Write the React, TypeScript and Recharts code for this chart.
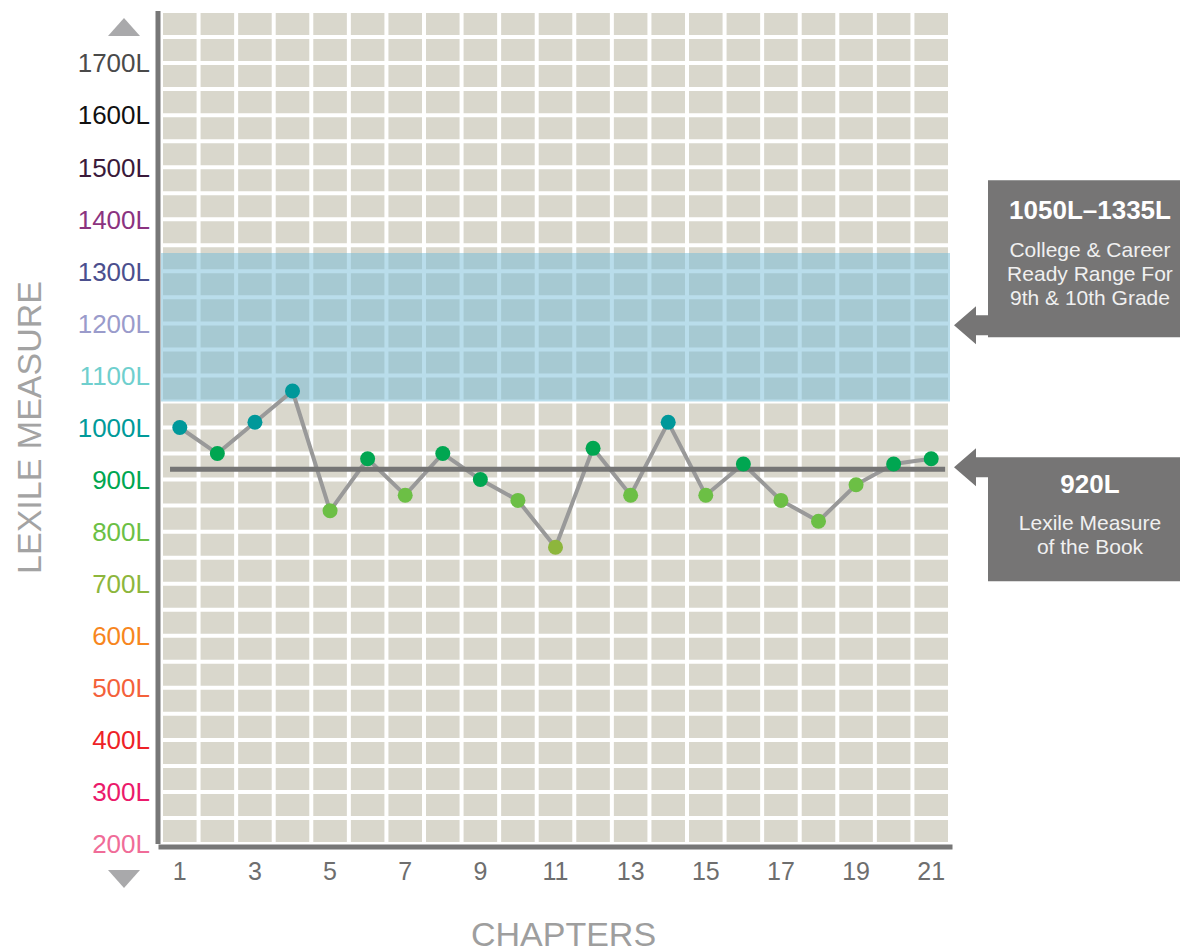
import React from 'react';
import {
  ComposedChart,
  Line,
  XAxis,
  YAxis,
  CartesianGrid,
  ReferenceArea,
  ReferenceLine,
} from 'recharts';

const chapters = [1, 2, 3, 4, 5, 6, 7, 8, 9, 10, 11, 12, 13, 14, 15, 16, 17, 18, 19, 20, 21];
const lexile = [1000, 950, 1010, 1070, 840, 940, 870, 950, 900, 860, 770, 960, 870, 1010, 870, 930, 860, 820, 890, 930, 940];

const xTicks = [1, 3, 5, 7, 9, 11, 13, 15, 17, 19, 21];
const yTicks = [200, 300, 400, 500, 600, 700, 800, 900, 1000, 1100, 1200, 1300, 1400, 1500, 1600, 1700];
const yTickColors = [
  '#f06c98', '#eb1a6b', '#ee2227', '#f4613a', '#f7861e', '#8db63c', '#6cbf45', '#00a651',
  '#009a9a', '#6fcfce', '#9a9bcb', '#4b4f8e', '#8b3380', '#3a1a3a', '#111111', '#4a4a4a',
];

const bookMeasure = 920;
const readyRange = [1050, 1335];

// grid cell borders: every half chapter, every 50L
const gridX = Array.from({ length: 22 }, (_, i) => i + 0.5);
const gridY = Array.from({ length: 33 }, (_, i) => 200 + i * 50);

const data = chapters.map((c, i) => ({ chapter: c, lexile: lexile[i] }));

const FONT = '"Liberation Sans", Arial, Helvetica, sans-serif';
const CALLOUT = '#767575';

const dotColor = (v: number) => {
  if (v >= 1000) return '#00989a';
  if (v >= 900) return '#00a651';
  if (v >= 800) return '#6cbf45';
  return '#8db63c';
};

const YTick = (props: any) => {
  const { x, y, payload } = props;
  const idx = yTicks.indexOf(payload.value);
  return (
    <text x={x} y={y} dy="0.36em" textAnchor="end" fontSize={26} fontFamily={FONT} fill={yTickColors[idx]}>
      {payload.value}L
    </text>
  );
};

const YTitle = (props: any) => {
  const { viewBox } = props;
  const cx = viewBox.x + viewBox.width - 37;
  const top = viewBox.y;
  const bottom = viewBox.y + viewBox.height;
  const my = top + viewBox.height / 2;
  return (
    <g>
      <text
        x={41}
        y={my}
        textAnchor="middle"
        fontSize={34}
        fontFamily={FONT}
        fill="#a3a3a3"
        transform={`rotate(-90, 41, ${my})`}
      >
        LEXILE MEASURE
      </text>
      <polygon points={`${cx},${top + 7} ${cx + 16},${top + 25} ${cx - 16},${top + 25}`} fill="#a9a9ab" />
      <polygon points={`${cx - 16},${bottom + 26} ${cx + 16},${bottom + 26} ${cx},${bottom + 44}`} fill="#a9a9ab" />
    </g>
  );
};

const calloutPath = (R: number, cy: number, top: number, bottom: number, W: number) =>
  [
    [R + 4, cy],
    [R + 26, cy - 19],
    [R + 26, cy - 10],
    [R + 38, cy - 10],
    [R + 38, top],
    [W, top],
    [W, bottom],
    [R + 38, bottom],
    [R + 38, cy + 10],
    [R + 26, cy + 10],
    [R + 26, cy + 19],
  ]
    .map((p) => p.join(','))
    .join(' ');

const RangeCallout = (props: any) => {
  const { viewBox } = props;
  const R = viewBox.x + viewBox.width;
  const cy = viewBox.y + viewBox.height / 2 - 2;
  const top = cy - 145;
  const bottom = cy + 12;
  return (
    <g fontFamily={FONT}>
      <polygon points={calloutPath(R, cy, top, bottom, 1180)} fill={CALLOUT} />
      <text x={1090} y={top + 39} textAnchor="middle" fontSize={26} fontWeight="bold" fill="#fff">
        1050L–1335L
      </text>
      <text x={1090} y={top + 77} textAnchor="middle" fontSize={21} fill="#f0f0f0">College &amp; Career</text>
      <text x={1090} y={top + 101} textAnchor="middle" fontSize={21} fill="#f0f0f0">Ready Range For</text>
      <text x={1090} y={top + 125} textAnchor="middle" fontSize={21} fill="#f0f0f0">9th &amp; 10th Grade</text>
    </g>
  );
};

const BookCallout = (props: any) => {
  const { viewBox } = props;
  const R = viewBox.x + viewBox.width;
  const cy = viewBox.y - 2;
  const top = cy - 10;
  const bottom = cy + 114;
  return (
    <g fontFamily={FONT}>
      <polygon points={calloutPath(R, cy, top, bottom, 1180)} fill={CALLOUT} />
      <text x={1090} y={top + 36} textAnchor="middle" fontSize={26} fontWeight="bold" fill="#fff">
        920L
      </text>
      <text x={1090} y={top + 73} textAnchor="middle" fontSize={21} fill="#f0f0f0">Lexile Measure</text>
      <text x={1090} y={top + 97} textAnchor="middle" fontSize={21} fill="#f0f0f0">of the Book</text>
    </g>
  );
};

const Dot = (props: any) => {
  const { cx, cy, payload, index } = props;
  return <circle key={`dot-${index}`} cx={cx} cy={cy} r={7.5} fill={dotColor(payload.lexile)} />;
};

export default function App() {
  return (
    <div style={{ position: 'absolute', left: 0, top: 0 }}>
      <ComposedChart
        width={1180}
        height={952}
        data={data}
        margin={{ top: 11, right: 230, bottom: 0, left: 0 }}
      >
        <XAxis xAxisId="grid" dataKey="chapter" type="number" domain={[0.5, 21.5]} ticks={gridX} interval={0} hide />
        <YAxis yAxisId="grid" dataKey="lexile" type="number" domain={[200, 1800]} ticks={gridY} interval={0} hide />
        <CartesianGrid
          xAxisId="grid"
          yAxisId="grid"
          fill="#d9d7cc"
          stroke="#ffffff"
          strokeWidth={4}
          syncWithTicks
        />
        <XAxis
          dataKey="chapter"
          type="number"
          domain={[0.5, 21.5]}
          ticks={xTicks}
          interval={0}
          height={108}
          tickSize={0}
          tickMargin={18}
          tickLine={false}
          axisLine={{ stroke: '#777777', strokeWidth: 5, strokeLinecap: 'square', transform: 'translate(0,3)' }}
          tick={{ fontSize: 25, fill: '#6e6e6e', fontFamily: FONT }}
          label={{ value: 'CHAPTERS', position: 'insideBottom', offset: 6, dx: 8, fontSize: 34, fill: '#9e9e9e', fontFamily: FONT }}
        />
        <YAxis
          type="number"
          domain={[200, 1800]}
          ticks={yTicks}
          interval={0}
          width={161}
          tickSize={0}
          tickMargin={11}
          tickLine={false}
          axisLine={{ stroke: '#777777', strokeWidth: 5, transform: 'translate(-3,0)' }}
          tick={<YTick />}
          label={(p: any) => <YTitle {...p} />}
        />
        <ReferenceArea
          y1={readyRange[0]}
          y2={readyRange[1]}
          fill="#74bcd8"
          fillOpacity={0.5}
          stroke="none"
          label={(p: any) => <RangeCallout {...p} />}
        />
        <Line
          dataKey="lexile"
          stroke="#999999"
          strokeWidth={4}
          dot={(p: any) => <Dot key={`d-${p.index}`} {...p} />}
          activeDot={false}
          isAnimationActive={false}
        />
        <ReferenceLine
          segment={[{ x: 0.74, y: bookMeasure }, { x: 21.37, y: bookMeasure }]}
          stroke="#757575"
          strokeWidth={5}
        />
        <ReferenceLine y={bookMeasure} stroke="none" label={(p: any) => <BookCallout {...p} />} />
      </ComposedChart>
    </div>
  );
}
